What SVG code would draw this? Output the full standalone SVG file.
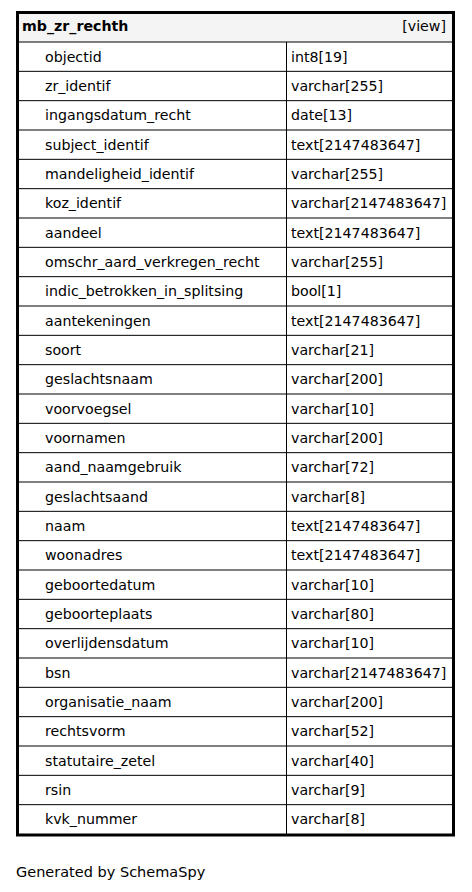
<svg xmlns="http://www.w3.org/2000/svg" width="472" height="892" viewBox="0 0 472 892">
<style>
text{font-family:"DejaVu Sans",sans-serif;font-size:14.2px;fill:#000}
.h{font-weight:bold}
.r{text-anchor:end}
.ln{stroke:#000;stroke-width:1;fill:none}
.f{font-size:14.5px}
</style>
<rect width="472" height="892" fill="#fff"/>
<g id="mb_zr_rechth">
<rect x="17.5" y="12.5" width="436" height="29.5" fill="#f4f4f4"/>
<text class="h" x="22" y="31">mb_zr_rechth</text>
<text class="r" x="446" y="31">[view]</text>
<g id="rows">
<line class="ln" x1="17" y1="42" x2="453" y2="42"/>
<line class="ln" x1="286.5" y1="42" x2="286.5" y2="834"/>
<line class="ln" x1="17" y1="71.33" x2="453" y2="71.33"/>
<line class="ln" x1="17" y1="100.67" x2="453" y2="100.67"/>
<line class="ln" x1="17" y1="130" x2="453" y2="130"/>
<line class="ln" x1="17" y1="159.33" x2="453" y2="159.33"/>
<line class="ln" x1="17" y1="188.67" x2="453" y2="188.67"/>
<line class="ln" x1="17" y1="218" x2="453" y2="218"/>
<line class="ln" x1="17" y1="247.33" x2="453" y2="247.33"/>
<line class="ln" x1="17" y1="276.67" x2="453" y2="276.67"/>
<line class="ln" x1="17" y1="306" x2="453" y2="306"/>
<line class="ln" x1="17" y1="335.33" x2="453" y2="335.33"/>
<line class="ln" x1="17" y1="364.67" x2="453" y2="364.67"/>
<line class="ln" x1="17" y1="394" x2="453" y2="394"/>
<line class="ln" x1="17" y1="423.33" x2="453" y2="423.33"/>
<line class="ln" x1="17" y1="452.67" x2="453" y2="452.67"/>
<line class="ln" x1="17" y1="482" x2="453" y2="482"/>
<line class="ln" x1="17" y1="511.33" x2="453" y2="511.33"/>
<line class="ln" x1="17" y1="540.67" x2="453" y2="540.67"/>
<line class="ln" x1="17" y1="570" x2="453" y2="570"/>
<line class="ln" x1="17" y1="599.33" x2="453" y2="599.33"/>
<line class="ln" x1="17" y1="628.67" x2="453" y2="628.67"/>
<line class="ln" x1="17" y1="658" x2="453" y2="658"/>
<line class="ln" x1="17" y1="687.33" x2="453" y2="687.33"/>
<line class="ln" x1="17" y1="716.67" x2="453" y2="716.67"/>
<line class="ln" x1="17" y1="746" x2="453" y2="746"/>
<line class="ln" x1="17" y1="775.33" x2="453" y2="775.33"/>
<line class="ln" x1="17" y1="804.67" x2="453" y2="804.67"/>
<text x="45" y="61.5">objectid</text><text x="291" y="61.5">int8[19]</text>
<text x="45" y="90.8">zr_identif</text><text x="291" y="90.8">varchar[255]</text>
<text x="45" y="120.2">ingangsdatum_recht</text><text x="291" y="120.2">date[13]</text>
<text x="45" y="149.5">subject_identif</text><text x="291" y="149.5">text[2147483647]</text>
<text x="45" y="178.8">mandeligheid_identif</text><text x="291" y="178.8">varchar[255]</text>
<text x="45" y="208.2">koz_identif</text><text x="291" y="208.2">varchar[2147483647]</text>
<text x="45" y="237.5">aandeel</text><text x="291" y="237.5">text[2147483647]</text>
<text x="45" y="266.8">omschr_aard_verkregen_recht</text><text x="291" y="266.8">varchar[255]</text>
<text x="45" y="296.2">indic_betrokken_in_splitsing</text><text x="291" y="296.2">bool[1]</text>
<text x="45" y="325.5">aantekeningen</text><text x="291" y="325.5">text[2147483647]</text>
<text x="45" y="354.8">soort</text><text x="291" y="354.8">varchar[21]</text>
<text x="45" y="384.2">geslachtsnaam</text><text x="291" y="384.2">varchar[200]</text>
<text x="45" y="413.5">voorvoegsel</text><text x="291" y="413.5">varchar[10]</text>
<text x="45" y="442.8">voornamen</text><text x="291" y="442.8">varchar[200]</text>
<text x="45" y="472.2">aand_naamgebruik</text><text x="291" y="472.2">varchar[72]</text>
<text x="45" y="501.5">geslachtsaand</text><text x="291" y="501.5">varchar[8]</text>
<text x="45" y="530.8">naam</text><text x="291" y="530.8">text[2147483647]</text>
<text x="45" y="560.2">woonadres</text><text x="291" y="560.2">text[2147483647]</text>
<text x="45" y="589.5">geboortedatum</text><text x="291" y="589.5">varchar[10]</text>
<text x="45" y="618.8">geboorteplaats</text><text x="291" y="618.8">varchar[80]</text>
<text x="45" y="648.2">overlijdensdatum</text><text x="291" y="648.2">varchar[10]</text>
<text x="45" y="677.5">bsn</text><text x="291" y="677.5">varchar[2147483647]</text>
<text x="45" y="706.8">organisatie_naam</text><text x="291" y="706.8">varchar[200]</text>
<text x="45" y="736.2">rechtsvorm</text><text x="291" y="736.2">varchar[52]</text>
<text x="45" y="765.5">statutaire_zetel</text><text x="291" y="765.5">varchar[40]</text>
<text x="45" y="794.8">rsin</text><text x="291" y="794.8">varchar[9]</text>
<text x="45" y="824.2">kvk_nummer</text><text x="291" y="824.2">varchar[8]</text>
</g>
<rect x="17.5" y="12.5" width="436" height="822.5" fill="none" stroke="#000" stroke-width="3"/>
</g>
<g id="connectors"/>
<text class="f" x="16" y="877">Generated by SchemaSpy</text>
</svg>
